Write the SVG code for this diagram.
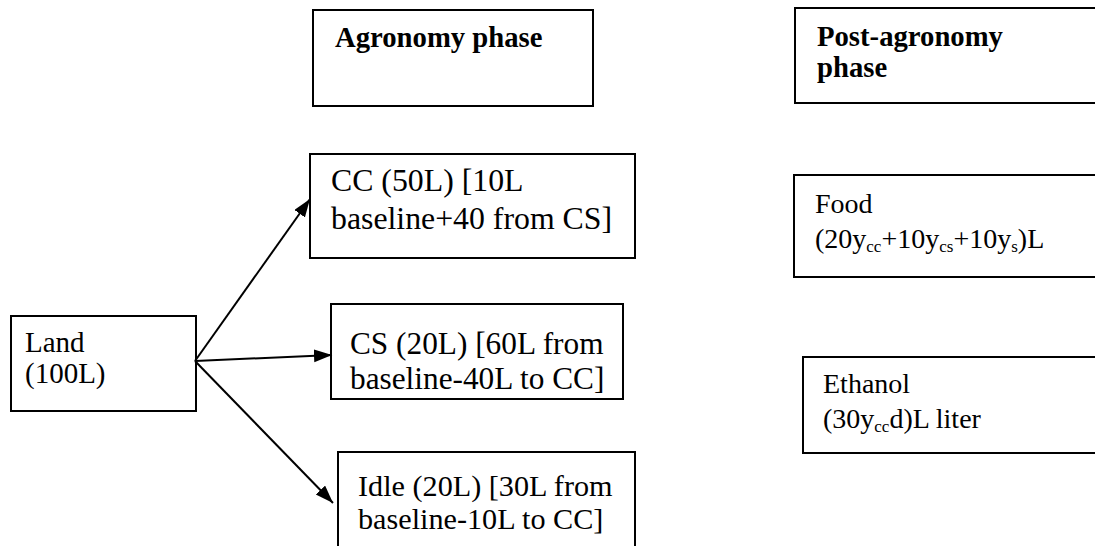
<svg xmlns="http://www.w3.org/2000/svg" width="1095" height="546" viewBox="0 0 1095 546">
<style>
.box{fill:#fff;stroke:#000;stroke-width:2}
.t{font-family:"Liberation Serif","Times New Roman",serif;font-size:28px;fill:#000}
.b{font-family:"Liberation Serif","Times New Roman",serif;font-size:28.7px;font-weight:bold;fill:#000}
.sub{font-size:17px}
.edge{stroke:#000;stroke-width:2;fill:none}
</style>
<defs>
<marker id="arr" markerUnits="userSpaceOnUse" markerWidth="20" markerHeight="14" refX="18" refY="6.5" orient="auto">
<path d="M0,0 L18,6.5 L0,13 Z" fill="#000"/>
</marker>
</defs>
<rect width="1095" height="546" fill="#fff"/>
<g id="agronomy">
<rect class="box" x="313" y="10" width="280" height="96"/>
<text class="b" x="335" y="47">Agronomy phase</text>
</g>
<g id="post">
<rect class="box" x="795" y="8" width="310" height="95"/>
<text class="b" x="817" y="46">Post-agronomy</text>
<text class="b" x="817" y="77">phase</text>
</g>
<g id="land">
<rect class="box" x="11" y="316" width="185" height="95"/>
<text class="t" x="25" y="352" style="font-size:29px">Land</text>
<text class="t" x="25" y="383" style="font-size:29px">(100L)</text>
</g>
<g id="cc">
<rect class="box" x="310" y="154" width="325" height="104"/>
<text class="t" x="331" y="191" style="font-size:31.8px">CC (50L) [10L</text>
<text class="t" x="331" y="229" style="font-size:31.8px">baseline+40 from CS]</text>
</g>
<g id="cs">
<rect class="box" x="331" y="304" width="292" height="95"/>
<text class="t" x="350" y="354" style="font-size:31.3px">CS (20L) [60L from</text>
<text class="t" x="350" y="389" style="font-size:31.3px">baseline-40L to CC]</text>
</g>
<g id="idle">
<rect class="box" x="338" y="452" width="297" height="110"/>
<text class="t" x="358" y="496" style="font-size:30.2px">Idle (20L) [30L from</text>
<text class="t" x="358" y="529" style="font-size:30.2px">baseline-10L to CC]</text>
</g>
<g id="food">
<rect class="box" x="794" y="175" width="310" height="102"/>
<text class="t" x="815" y="213">Food</text>
<text class="t" x="815" y="248">(20y<tspan class="sub" dy="4">cc</tspan><tspan dy="-4">+10y</tspan><tspan class="sub" dy="4">cs</tspan><tspan dy="-4">+10y</tspan><tspan class="sub" dy="4">s</tspan><tspan dy="-4">)L</tspan></text>
</g>
<g id="ethanol">
<rect class="box" x="803" y="357" width="300" height="96"/>
<text class="t" x="823" y="393">Ethanol</text>
<text class="t" x="823" y="428">(30y<tspan class="sub" dy="4">cc</tspan><tspan dy="-4">d)L liter</tspan></text>
</g>
<g id="connectors">
<line class="edge" x1="195" y1="361" x2="310" y2="199" marker-end="url(#arr)"/>
<line class="edge" x1="195" y1="361" x2="332" y2="355" marker-end="url(#arr)"/>
<line class="edge" x1="195" y1="361" x2="333" y2="503" marker-end="url(#arr)"/>
</g>
</svg>
